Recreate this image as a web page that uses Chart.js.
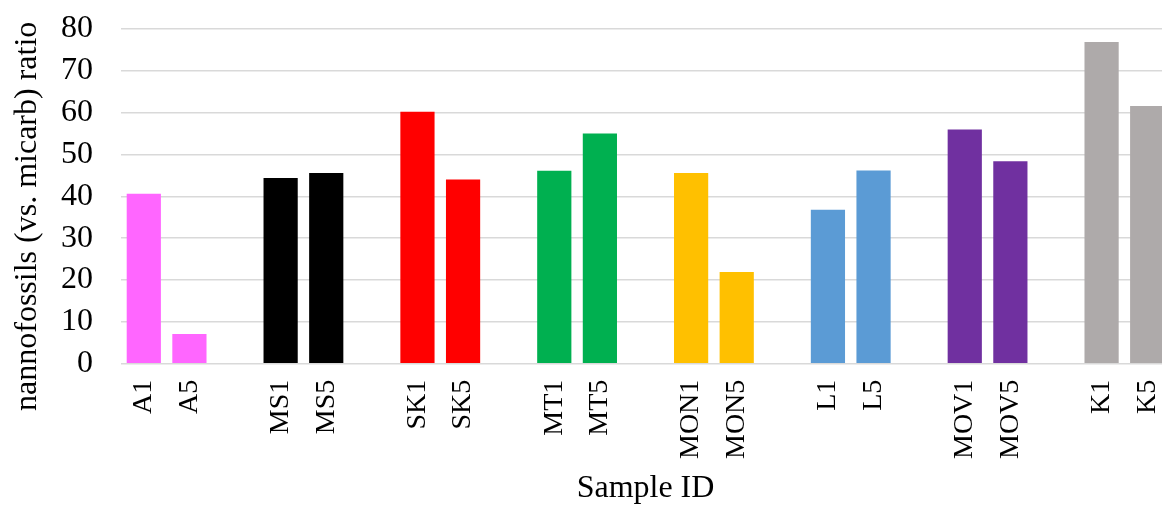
<!DOCTYPE html>
<html>
<head>
<meta charset="utf-8">
<script src="https://cdn.jsdelivr.net/npm/chart.js@4.4.1/dist/chart.umd.min.js"></script>
<style>
  html, body { margin: 0; padding: 0; background: #fff; overflow: hidden; }
  #wrap { width: 1162px; height: 506px; overflow: hidden; }
  canvas { display: block; }
</style>
</head>
<body>
<div id="wrap"><canvas id="c" width="1186" height="506" style="width:1186px;height:506px"></canvas></div>
<script>
// Sample IDs; empty strings leave a blank slot between sites
const samples = ['A1', 'A5', '', 'MS1', 'MS5', '', 'SK1', 'SK5', '', 'MT1', 'MT5', '',
                 'MON1', 'MON5', '', 'L1', 'L5', '', 'MOV1', 'MOV5', '', 'K1', 'K5'];

// Nannofossils / micarb ratio per sample
const ratios = [40.6, 7.1, null, 44.4, 45.6, null, 60.2, 44.0, null, 46.1, 55.0, null,
                45.6, 21.9, null, 36.8, 46.2, null, 56.0, 48.4, null, 76.9, 61.6];

// Site colours, one per sample slot
const barColors = ['#FF66FF', '#FF66FF', null, '#000000', '#000000', null,
                   '#FF0000', '#FF0000', null, '#00B050', '#00B050', null,
                   '#FFC000', '#FFC000', null, '#5B9BD5', '#5B9BD5', null,
                   '#7030A0', '#7030A0', null, '#AEAAAA', '#AEAAAA'];

const yTicks = [0, 10, 20, 30, 40, 50, 60, 70, 80];

const serif = 'Liberation Serif';

new Chart(document.getElementById('c'), {
  type: 'bar',
  data: {
    labels: samples,
    datasets: [{
      data: ratios,
      backgroundColor: barColors.map(c => c || 'rgba(0,0,0,0)'),
      borderWidth: 0,
      categoryPercentage: 0.75,
      barPercentage: 1.0
    }]
  },
  options: {
    responsive: false,
    animation: false,
    layout: { padding: { top: 29, right: 16, left: 0, bottom: 0 } },
    plugins: {
      legend: { display: false },
      tooltip: { enabled: false }
    },
    scales: {
      x: {
        offset: true,
        afterFit: s => { s.paddingLeft = 0; s.paddingRight = 0; },
        grid: { display: false, drawTicks: false },
        border: { display: false },
        ticks: {
          autoSkip: false,
          minRotation: 90,
          maxRotation: 90,
          padding: 16,
          color: '#000',
          font: { family: serif, size: 28 }
        },
        title: {
          display: true,
          text: 'Sample ID',
          color: '#000',
          font: { family: serif, size: 32, lineHeight: 1 },
          padding: { top: -2, bottom: 1 }
        }
      },
      y: {
        min: 0,
        max: 80,
        afterBuildTicks: axis => { axis.ticks = yTicks.map(v => ({ value: v })); },
        afterFit: s => { s.paddingTop = 0; s.paddingBottom = 0; },
        grid: { color: '#d9d9d9', lineWidth: 1.5, drawTicks: false },
        border: { display: false },
        ticks: {
          autoSkip: false,
          padding: 28,
          color: '#000',
          font: { family: serif, size: 32 }
        },
        title: {
          display: true,
          // trailing spaces keep the title a little below the plot centre
          text: 'nannofossils (vs. micarb) ratio     ',
          color: '#000',
          font: { family: serif, size: 32, lineHeight: 1 },
          padding: { top: 12, bottom: -11 }
        }
      }
    }
  }
});
</script>
</body>
</html>
